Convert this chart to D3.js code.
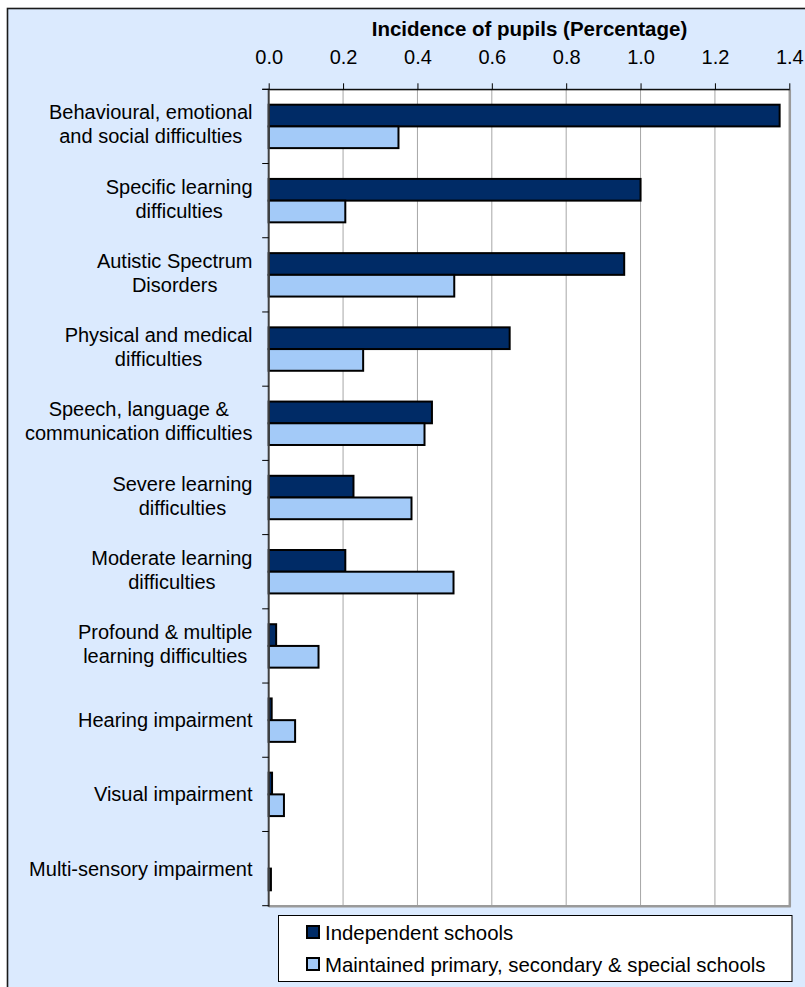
<!DOCTYPE html>
<html>
<head>
<meta charset="utf-8">
<script src="https://cdn.jsdelivr.net/npm/d3@7"></script>
<style>
  html, body { margin: 0; padding: 0; background: #ffffff; }
  svg { display: block; }
  text { font-family: "Liberation Sans", Arial, sans-serif; fill: #000; }
</style>
</head>
<body>
<svg id="chart" width="805" height="987"></svg>
<script>
// ---- data ----
const categories = [
  "Behavioural, emotional\nand social difficulties",
  "Specific learning\ndifficulties",
  "Autistic Spectrum\nDisorders",
  "Physical and medical\ndifficulties",
  "Speech, language &\ncommunication difficulties",
  "Severe learning\ndifficulties",
  "Moderate learning\ndifficulties",
  "Profound & multiple\nlearning difficulties",
  "Hearing impairment",
  "Visual impairment",
  "Multi-sensory impairment"
];
const independent = [1.374, 1.000, 0.956, 0.648, 0.439, 0.228, 0.206, 0.020, 0.008, 0.009, 0.000];
const maintained  = [0.349, 0.206, 0.499, 0.254, 0.419, 0.384, 0.497, 0.134, 0.071, 0.041, 0.006];
const seriesNames = ["Independent schools", "Maintained primary, secondary & special schools"];
const xTicks = [0, 0.2, 0.4, 0.6, 0.8, 1.0, 1.2, 1.4];
const axisTitle = "Incidence of pupils (Percentage)";

// ---- layout ----
const W = 805, H = 987;
const plot = { left: 268.7, right: 789.3, top: 89.3, bottom: 905.7 };
const colors = ["#002B66", "#A3CAF8"];

const svg = d3.select("#chart");

// outer background frame
svg.append("rect")
  .attr("x", 7.5).attr("y", 8.5)
  .attr("width", W + 10).attr("height", H + 10)
  .attr("fill", "#DBEAFE")
  .attr("stroke", "#1a1a1a").attr("stroke-width", 1.6);

const x = d3.scaleLinear().domain([0, 1.4]).range([plot.left, plot.right]);
const y0 = d3.scaleBand().domain(d3.range(categories.length))
  .range([plot.top, plot.bottom]).paddingInner(0.415).paddingOuter(0.2075);
const y1 = d3.scaleBand().domain([0, 1]).range([0, y0.bandwidth()]);
const yEdges = d3.scaleLinear().domain([0, categories.length]).range([plot.top, plot.bottom]);

// plot area background
svg.append("rect")
  .attr("x", plot.left).attr("y", plot.top)
  .attr("width", plot.right - plot.left).attr("height", plot.bottom - plot.top)
  .attr("fill", "#ffffff");

// gridlines
svg.append("g").selectAll("line")
  .data(xTicks.filter(t => t > 0 && t < 1.4))
  .join("line")
  .attr("x1", d => x(d)).attr("x2", d => x(d))
  .attr("y1", plot.top).attr("y2", plot.bottom)
  .attr("stroke", "#A6A6A6").attr("stroke-width", 1);

// right & bottom plot border (grey)
svg.append("line")
  .attr("x1", plot.right + 0.5).attr("x2", plot.right + 0.5)
  .attr("y1", plot.top).attr("y2", plot.bottom + 1)
  .attr("stroke", "#9A9A9A").attr("stroke-width", 2.5);
svg.append("line")
  .attr("x1", plot.left).attr("x2", plot.right + 1.5)
  .attr("y1", plot.bottom + 0.5).attr("y2", plot.bottom + 0.5)
  .attr("stroke", "#9A9A9A").attr("stroke-width", 2.5);

// bars
const rows = categories.map((c, i) => ({ i, vals: [independent[i], maintained[i]] }));
const groups = svg.append("g").selectAll("g")
  .data(rows).join("g")
  .attr("transform", d => `translate(0,${y0(d.i)})`);
groups.selectAll("rect")
  .data(d => d.vals.map((v, s) => ({ v, s })))
  .join("rect")
  .attr("x", x(0))
  .attr("y", d => y1(d.s))
  .attr("width", d => Math.max(0, x(d.v) - x(0)))
  .attr("height", y1.bandwidth())
  .attr("fill", d => colors[d.s])
  .attr("stroke", "#000")
  .attr("stroke-width", 2)
  .attr("display", d => d.v > 0 ? null : "none");

// top axis
const xAxis = d3.axisTop(x).tickValues(xTicks).tickFormat(d3.format(".1f"))
  .tickSizeInner(6).tickSizeOuter(0).tickPadding(19);
const gx = svg.append("g").attr("transform", `translate(0,${plot.top})`).call(xAxis);
gx.select(".domain").attr("stroke", "#000").attr("stroke-width", 1);
gx.selectAll(".tick line").attr("stroke", "#000").attr("stroke-width", 1);
gx.selectAll(".tick text")
  .attr("font-size", 20).attr("font-family", "Liberation Sans, Arial, sans-serif")
  .attr("fill", "#000");

// left axis line & category ticks
svg.append("line")
  .attr("x1", plot.left).attr("x2", plot.left)
  .attr("y1", plot.top - 0.5).attr("y2", plot.bottom + 1)
  .attr("stroke", "#404040").attr("stroke-width", 2);
svg.append("g").selectAll("line")
  .data(d3.range(categories.length + 1))
  .join("line")
  .attr("x1", plot.left - 6.5).attr("x2", plot.left)
  .attr("y1", d => yEdges(d)).attr("y2", d => yEdges(d))
  .attr("stroke", "#000").attr("stroke-width", 1);
svg.append("line")
  .attr("x1", plot.left - 6.5).attr("x2", plot.right)
  .attr("y1", plot.top).attr("y2", plot.top)
  .attr("stroke", "#000").attr("stroke-width", 1);

// category labels (block right-aligned, lines centred)
const labelRight = 252.5;
const lg = svg.append("g");
categories.forEach((c, i) => {
  const lines = c.split("\n");
  const n = lines.length;
  const cy = y0(i) + y0.bandwidth() / 2;
  const t = lg.append("text").attr("font-size", 20).attr("text-anchor", "middle");
  const spans = lines.map((ln, k) => t.append("tspan").text(ln)
    .attr("y", cy + 7 - (n - 1) * 14 + k * 24));
  const maxW = d3.max(spans, s => s.node().getComputedTextLength());
  spans.forEach(s => s.attr("x", labelRight - maxW / 2));
});

// axis title
svg.append("text")
  .attr("x", 529.5).attr("y", 35.5)
  .attr("text-anchor", "middle")
  .attr("font-size", 20.5).attr("font-weight", "bold")
  .text(axisTitle);

// legend
const leg = { x: 278.5, y: 915.5, w: 513.5, h: 66 };
svg.append("rect")
  .attr("x", leg.x).attr("y", leg.y).attr("width", leg.w).attr("height", leg.h)
  .attr("fill", "#fff").attr("stroke", "#000").attr("stroke-width", 1);
const items = svg.append("g").selectAll("g")
  .data(seriesNames).join("g")
  .attr("transform", (d, i) => `translate(0,${925 + i * 32})`);
items.append("rect")
  .attr("x", 307).attr("y", 1).attr("width", 12).attr("height", 12)
  .attr("fill", (d, i) => colors[i]).attr("stroke", "#000").attr("stroke-width", 2);
items.append("text")
  .attr("x", 325).attr("y", 14.5)
  .attr("font-size", 20.4)
  .text(d => d);
</script>
</body>
</html>
